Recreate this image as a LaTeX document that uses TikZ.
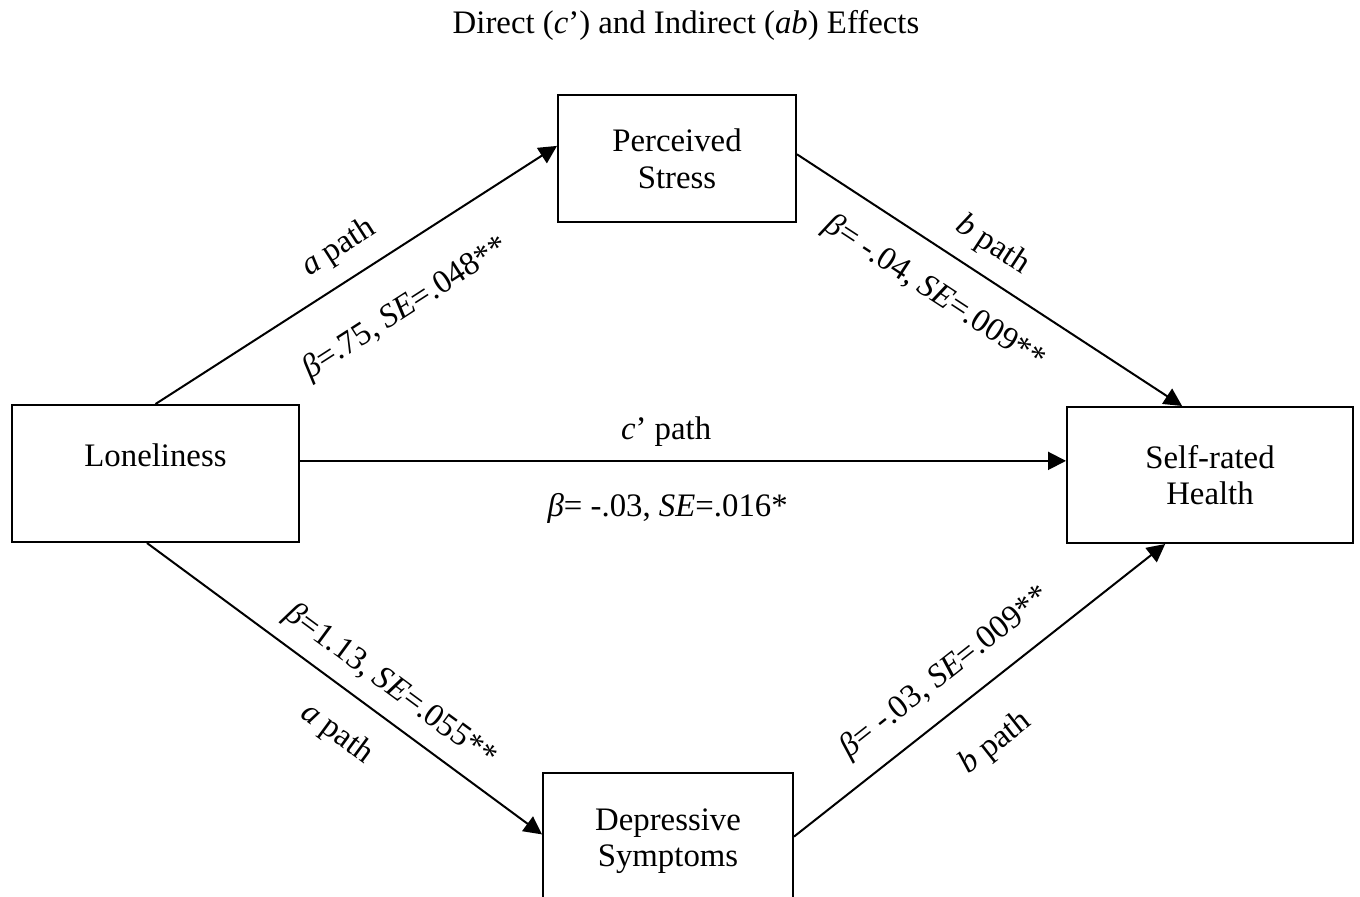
\documentclass[tikz,border=0pt]{standalone}
\usepackage{fontspec}
\setmainfont{Liberation Serif}
\usepackage{tikz}
\usetikzlibrary{arrows.meta}

\begin{document}
\begin{tikzpicture}[x=0.5pt,y=-0.5pt,
		font=\fontsize{16.4}{18.3}\selectfont,
		box/.style={draw, line width=1pt, align=center, inner sep=0pt},
		lab/.style={inner sep=0pt, sloped},
		arr/.style={-{Triangle[length=9pt,width=9pt]}, line width=1pt}]
		% page frame
		\useasboundingbox (0,0) rectangle (1360,896);
		\clip (0,0) rectangle (1360,896);
		
		% Title
		\node (title) at (686,25) {Direct (\textit{c}’) and Indirect (\textit{ab}) Effects};
		
		% Variables
		\node[box, minimum width=119pt, minimum height=63.5pt] (stress) at (677,158.5) {Perceived\\Stress};
		\node[box, minimum width=143.5pt, minimum height=68.5pt] (lonely) at (155.5,473.5) {Loneliness\\~};
		\node[box, minimum width=143pt, minimum height=68pt] (health) at (1210,475) {Self-rated\\Health};
		\node[box, minimum width=125pt, minimum height=68pt] (depress) at (668,841) {Depressive\\Symptoms};
		
		% Indirect effect through stress
		\draw[arr] (lonely.north) -- node[lab, pos=0.5, above=8pt] {\textit{a} path}
			node[lab, pos=0.549, below=19.6pt] {\textit{β}=.75, \textit{SE}=.048**} (stress.174);
		\draw[arr] (stress.2) -- node[lab, pos=0.464, above=7.5pt] {\textit{b} path}
			node[lab, pos=0.415, below=12.5pt] {\textit{β}= -.04, \textit{SE}=.009**} (health.112);
		
		% Direct effect
		\draw[arr] (lonely.5) -- node[lab, pos=0.478, above=6.6pt] {\textit{c}’ path}
			node[lab, pos=0.48, below=16pt] {\textit{β}= -.03, \textit{SE}=.016*} (lonely.5 -| health.west);
		
		% Indirect effect through depressive symptoms
		\draw[arr] (lonely.-97) -- node[lab, pos=0.572, above=6.6pt] {\textit{β}=1.13, \textit{SE}=.055**}
			node[lab, pos=0.542, below=12.6pt] {\textit{a} path} (depress.177);
		\draw[arr] (depress.2) -- node[lab, pos=0.466, above=9.4pt] {\textit{β}= -.03, \textit{SE}=.009**}
			node[lab, pos=0.457, below=18pt] {\textit{b} path} (health.237);
	\end{tikzpicture}
\end{document}
